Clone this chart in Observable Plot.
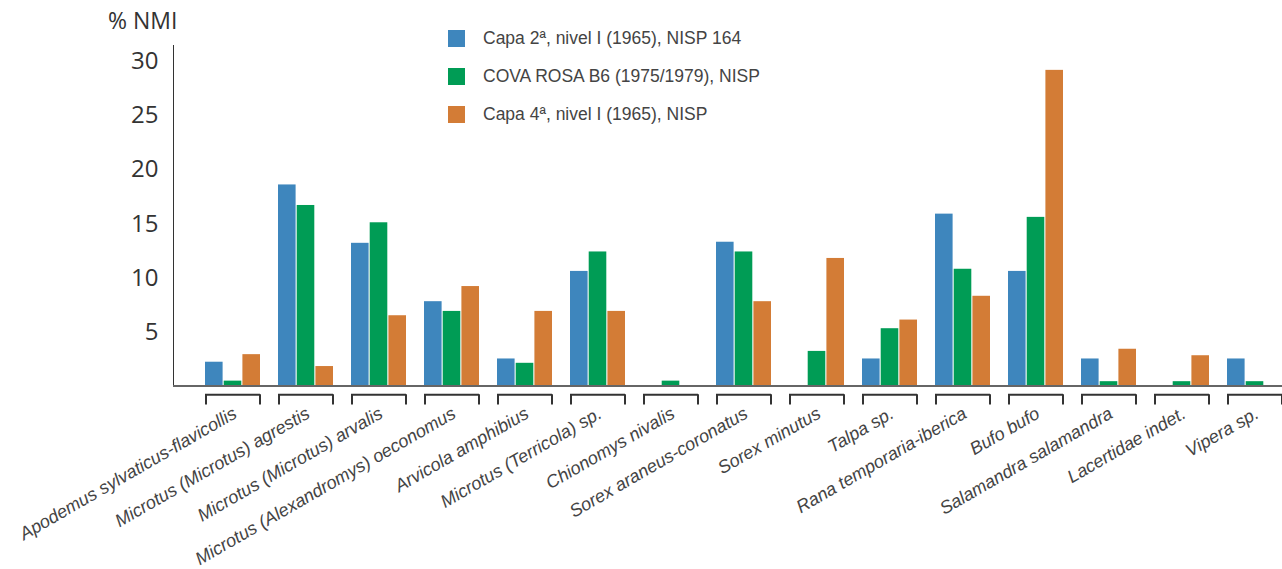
<!DOCTYPE html>
<html>
<head>
<meta charset="utf-8">
<script src="https://cdn.jsdelivr.net/npm/d3@7"></script>
<script src="https://cdn.jsdelivr.net/npm/@observablehq/plot@0.6"></script>
<style>
  html, body { margin: 0; padding: 0; background: #fff; }
  #wrap { position: relative; width: 1282px; height: 569px; overflow: hidden; }
  #ylabel { position: absolute; left: 108px; top: 9px; font: 23px "Open Sans", sans-serif; color: #333; line-height: 1; }
  #legend { position: absolute; left: 448px; top: 30px; font: 17.5px "Liberation Sans", Arial, sans-serif; color: #444; }
  .row { display: flex; align-items: center; height: 17px; margin-bottom: 21px; }
  .sw { width: 17px; height: 17px; margin-right: 18px; }
  g[aria-label="y-axis line"] line, g[aria-label="y-axis line"] path { stroke: #777; stroke-width: 2px; }
</style>
</head>
<body>
<div id="wrap">
  <div id="chart"></div>
  <div id="ylabel">% NMI</div>
  <div id="legend"></div>
</div>
<script>
const species = [
  "Apodemus sylvaticus-flavicollis",
  "Microtus (Microtus) agrestis",
  "Microtus (Microtus) arvalis",
  "Microtus (Alexandromys) oeconomus",
  "Arvicola amphibius",
  "Microtus (Terricola) sp.",
  "Chionomys nivalis",
  "Sorex araneus-coronatus",
  "Sorex minutus",
  "Talpa sp.",
  "Rana temporaria-iberica",
  "Bufo bufo",
  "Salamandra salamandra",
  "Lacertidae indet.",
  "Vipera sp."
];
const seriesNames = [
  "Capa 2ª, nivel I (1965), NISP 164",
  "COVA ROSA B6 (1975/1979), NISP",
  "Capa 4ª, nivel I (1965), NISP"
];
const seriesColors = ["#3e86bd", "#009c55", "#d37c36"];
const capa2 = [2.2, 18.6, 13.2, 7.8, 2.5, 10.6, 0, 13.3, 0, 2.5, 15.9, 10.6, 2.5, 0, 2.5];
const covaRosa = [0.45, 16.7, 15.1, 6.9, 2.1, 12.4, 0.45, 12.4, 3.2, 5.3, 10.8, 15.6, 0.4, 0.4, 0.4];
const capa4 = [2.9, 1.8, 6.5, 9.2, 6.9, 6.9, 0, 7.8, 11.8, 6.1, 8.3, 29.2, 3.4, 2.8, 0];
const yTicks = [5, 10, 15, 20, 25, 30];

const seriesValues = [capa2, covaRosa, capa4];
const rows = [];
seriesValues.forEach((vals, k) => {
  species.forEach((s, i) => rows.push({species: s, series: seriesNames[k], k, value: vals[i]}));
});

const step = 18.7; // offset between the three bars inside a species band
const barMarks = seriesNames.map((name, k) =>
  Plot.barY(rows.filter(d => d.k === k && d.value > 0), {
    x: "species",
    y: "value",
    fill: seriesColors[k],
    insetLeft: k * step,
    insetRight: (2 - k) * step
  })
);

const chart = Plot.plot({
  width: 1282,
  height: 569,
  marginLeft: 173,
  marginRight: 0,
  marginTop: 45,
  marginBottom: 183.5,
  style: {fontFamily: "'Open Sans', sans-serif", fontSize: "24px", color: "#333", background: "white"},
  x: {domain: species, paddingInner: 0.25, paddingOuter: 0.22, align: 1, axis: null},
  y: {domain: [0, 31.5], ticks: yTicks, tickSize: 0, tickPadding: 15, line: true, label: null, tickFormat: d => String(d)},
  marks: [
    ...barMarks,
    Plot.ruleY([0], {stroke: "#666", strokeWidth: 2}),
    Plot.tickY(species, {x: d => d, y: () => -0.8, stroke: "#333", strokeWidth: 2}),
    Plot.ruleX(species, {x: d => d, y1: -0.8, y2: -1.75, dx: -27, stroke: "#333", strokeWidth: 2}),
    Plot.ruleX(species, {x: d => d, y1: -0.8, y2: -1.75, dx: 27, stroke: "#333", strokeWidth: 2}),
    Plot.text(species, {
      x: d => d,
      frameAnchor: "bottom",
      dx: 5,
      dy: 31,
      rotate: -30,
      textAnchor: "end",
      fontStyle: "italic",
      fontSize: 18,
      fontFamily: "'Liberation Sans', Arial, sans-serif",
      fill: "#444",
      text: d => d
    })
  ]
});
document.getElementById("chart").appendChild(chart);

const legend = document.getElementById("legend");
seriesNames.forEach((name, k) => {
  const row = document.createElement("div");
  row.className = "row";
  const sw = document.createElement("div");
  sw.className = "sw";
  sw.style.background = seriesColors[k];
  const t = document.createElement("span");
  t.textContent = name;
  row.appendChild(sw);
  row.appendChild(t);
  legend.appendChild(row);
});
</script>
</body>
</html>
